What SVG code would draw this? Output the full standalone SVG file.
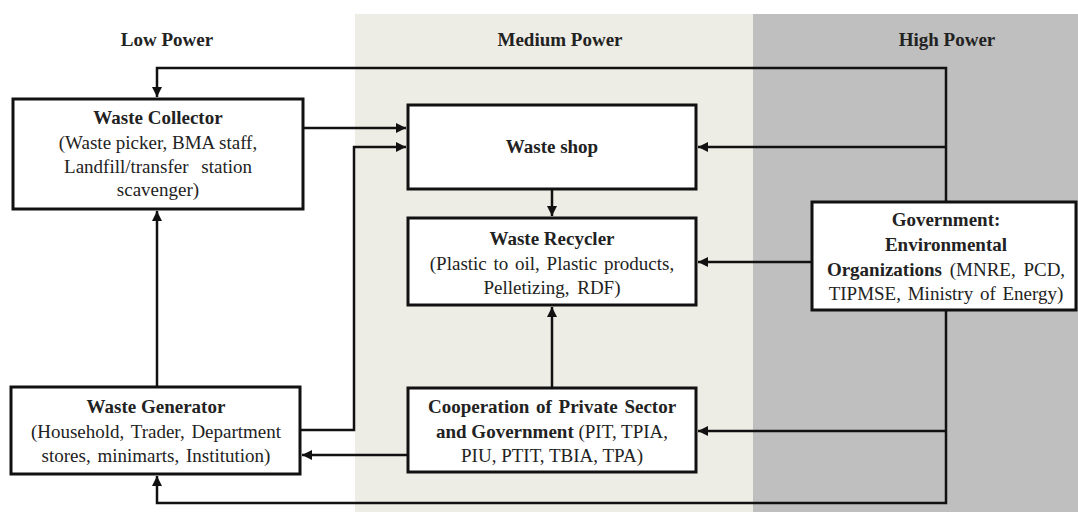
<svg xmlns="http://www.w3.org/2000/svg" width="1078" height="512" viewBox="0 0 1078 512">
<style>
.box{fill:#ffffff;stroke:#111;stroke-width:3}
.t{font-family:"Liberation Serif","Times New Roman",serif;font-size:19px;fill:#222;text-anchor:middle}
.b{font-weight:bold}
.h{font-family:"Liberation Serif","Times New Roman",serif;font-size:19px;font-weight:bold;fill:#222;text-anchor:middle}
.c{fill:none;stroke:#111;stroke-width:2.5}
</style>
<defs>
<marker id="ah" viewBox="0 0 10 10" refX="10" refY="5" markerWidth="4" markerHeight="4" orient="auto" markerUnits="strokeWidth">
<path d="M0,0 L10,5 L0,10 z" fill="#111"/>
</marker>
</defs>
<rect x="0" y="0" width="1078" height="512" fill="#ffffff"/>
<rect x="355" y="14" width="398" height="498" fill="#eeede5"/>
<rect x="753" y="14" width="325" height="498" fill="#bfbfbf"/>
<g id="headers">
<text class="h" x="167" y="46">Low Power</text>
<text class="h" x="560" y="46">Medium Power</text>
<text class="h" x="947" y="46">High Power</text>
</g>
<g id="connectors">
<path class="c" d="M946,202 V68 H157 V97" marker-end="url(#ah)"/>
<path class="c" d="M946,147 H698" marker-end="url(#ah)"/>
<path class="c" d="M303,128 H406" marker-end="url(#ah)"/>
<path class="c" d="M300,430 H354 V147 H406" marker-end="url(#ah)"/>
<path class="c" d="M552,189 V216" marker-end="url(#ah)"/>
<path class="c" d="M812,262 H698" marker-end="url(#ah)"/>
<path class="c" d="M552,388 V307" marker-end="url(#ah)"/>
<path class="c" d="M946,310 V503 H157 V476" marker-end="url(#ah)"/>
<path class="c" d="M946,431 H698" marker-end="url(#ah)"/>
<path class="c" d="M408,455 H302" marker-end="url(#ah)"/>
<path class="c" d="M157,387 V211" marker-end="url(#ah)"/>
</g>
<g id="waste-collector">
<rect class="box" x="13" y="99" width="290" height="110"/>
<text class="t b" x="158" y="124">Waste Collector</text>
<text class="t" x="158" y="149">(Waste picker, BMA staff,</text>
<text class="t" x="158" y="173" word-spacing="8">Landfill/transfer station</text>
<text class="t" x="158" y="196">scavenger)</text>
</g>
<g id="waste-generator">
<rect class="box" x="11" y="387" width="289" height="87"/>
<text class="t b" x="156" y="413">Waste Generator</text>
<text class="t" x="156" y="438" word-spacing="2">(Household, Trader, Department</text>
<text class="t" x="156" y="462" word-spacing="2">stores, minimarts, Institution)</text>
</g>
<g id="waste-shop">
<rect class="box" x="408" y="105" width="288" height="84"/>
<text class="t b" x="552" y="153">Waste shop</text>
</g>
<g id="waste-recycler">
<rect class="box" x="408" y="218" width="288" height="87"/>
<text class="t b" x="552" y="245">Waste Recycler</text>
<text class="t" x="552" y="270" word-spacing="2">(Plastic to oil, Plastic products,</text>
<text class="t" x="552" y="294" word-spacing="3">Pelletizing, RDF)</text>
</g>
<g id="cooperation">
<rect class="box" x="408" y="388" width="288" height="84"/>
<text class="t b" x="552" y="413" word-spacing="2">Cooperation of Private Sector</text>
<text class="t" x="552" y="438"><tspan class="b">and Government</tspan> (PIT, TPIA,</text>
<text class="t" x="552" y="462">PIU, PTIT, TBIA, TPA)</text>
</g>
<g id="government">
<rect class="box" x="812" y="202" width="264" height="108"/>
<text class="t b" x="946" y="226">Government:</text>
<text class="t b" x="946" y="251">Environmental</text>
<text class="t" x="946" y="276" word-spacing="3"><tspan class="b">Organizations</tspan> (MNRE, PCD,</text>
<text class="t" x="946" y="300" word-spacing="2">TIPMSE, Ministry of Energy)</text>
</g>
</svg>
